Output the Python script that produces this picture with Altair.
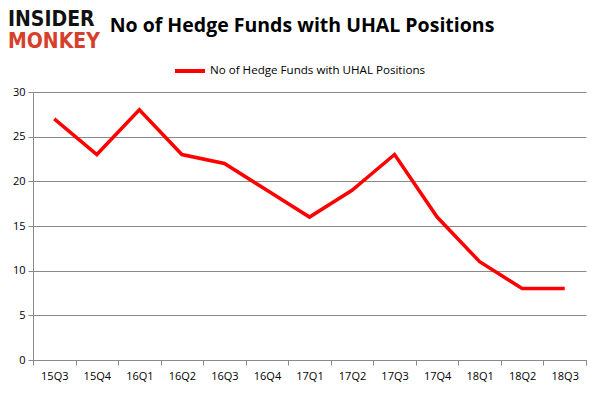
import altair as alt
import pandas as pd

quarters = ["15Q3", "15Q4", "16Q1", "16Q2", "16Q3", "16Q4", "17Q1",
            "17Q2", "17Q3", "17Q4", "18Q1", "18Q2", "18Q3"]
funds = [27, 23, 28, 23, 22, 19, 16, 19, 23, 16, 11, 8, 8]
series_name = "No of Hedge Funds with UHAL Positions"
title_text = "No of Hedge Funds with UHAL Positions"
y_ticks = [0, 5, 10, 15, 20, 25, 30]
logo_words = ["INSIDER", "MONKEY"]
logo_colors = ["#111111", "#d6402b"]

df = pd.DataFrame({"quarter": quarters, "funds": funds, "series": series_name})

FONT = "Open Sans"
GRAY = "#898989"

line = alt.Chart(df).mark_line(strokeWidth=3.5, strokeJoin="miter").encode(
    x=alt.X("quarter:O", sort=quarters, bandPosition=0.5,
            scale=alt.Scale(type="band", paddingInner=0, paddingOuter=0),
            axis=alt.Axis(title=None, labelAngle=0, tickBand="extent",
                          ticks=True, tickSize=5, tickColor=GRAY,
                          domainColor=GRAY, labelPadding=5, grid=False,
                          labelFont=FONT, labelFontSize=11,
                          labelColor="#000000")),
    y=alt.Y("funds:Q", scale=alt.Scale(domain=[0, 30], nice=False),
            axis=alt.Axis(title=None, values=y_ticks, grid=True,
                          gridColor=GRAY, domainColor=GRAY, tickColor=GRAY,
                          tickSize=5, labelPadding=3, labelFont=FONT,
                          labelFontSize=11, labelColor="#000000")),
    color=alt.Color("series:N",
                    scale=alt.Scale(domain=[series_name], range=["#ff0000"]),
                    legend=alt.Legend(title=None, orient="none", legendX=140,
                                      legendY=-38, symbolType="stroke",
                                      symbolStrokeWidth=4, symbolSize=900,
                                      labelFont=FONT, labelFontSize=11.6,
                                      labelColor="#000000", labelOffset=3,
                                      labelLimit=0, padding=0)),
)

title_df = pd.DataFrame({"t": [title_text]})
title = alt.Chart(title_df).mark_text(
    font=FONT, fontSize=19.5, fontWeight="bold", align="center",
    baseline="alphabetic", color="#000000"
).encode(x=alt.value(269), y=alt.value(-60), text="t:N")

logo1 = alt.Chart(pd.DataFrame({"word": [logo_words[0]]})).mark_text(
    font="DejaVu Sans Condensed", fontWeight="bold", fontSize=21,
    align="left", baseline="alphabetic", color=logo_colors[0]
).encode(x=alt.value(-25), y=alt.value(-66), text="word:N")
logo2 = alt.Chart(pd.DataFrame({"word": [logo_words[1]]})).mark_text(
    font="DejaVu Sans Condensed", fontWeight="bold", fontSize=21,
    align="left", baseline="alphabetic", color=logo_colors[1]
).encode(x=alt.value(-25), y=alt.value(-44), text="word:N")

chart = alt.layer(line, title, logo1, logo2).properties(
    width=553, height=268,
    autosize=alt.AutoSizeParams(type="none"),
    padding={"left": 25, "top": 84, "right": 7, "bottom": 28},
).configure_view(stroke=None)

chart.save("out.html", embed_options={"renderer": "svg", "actions": False})
